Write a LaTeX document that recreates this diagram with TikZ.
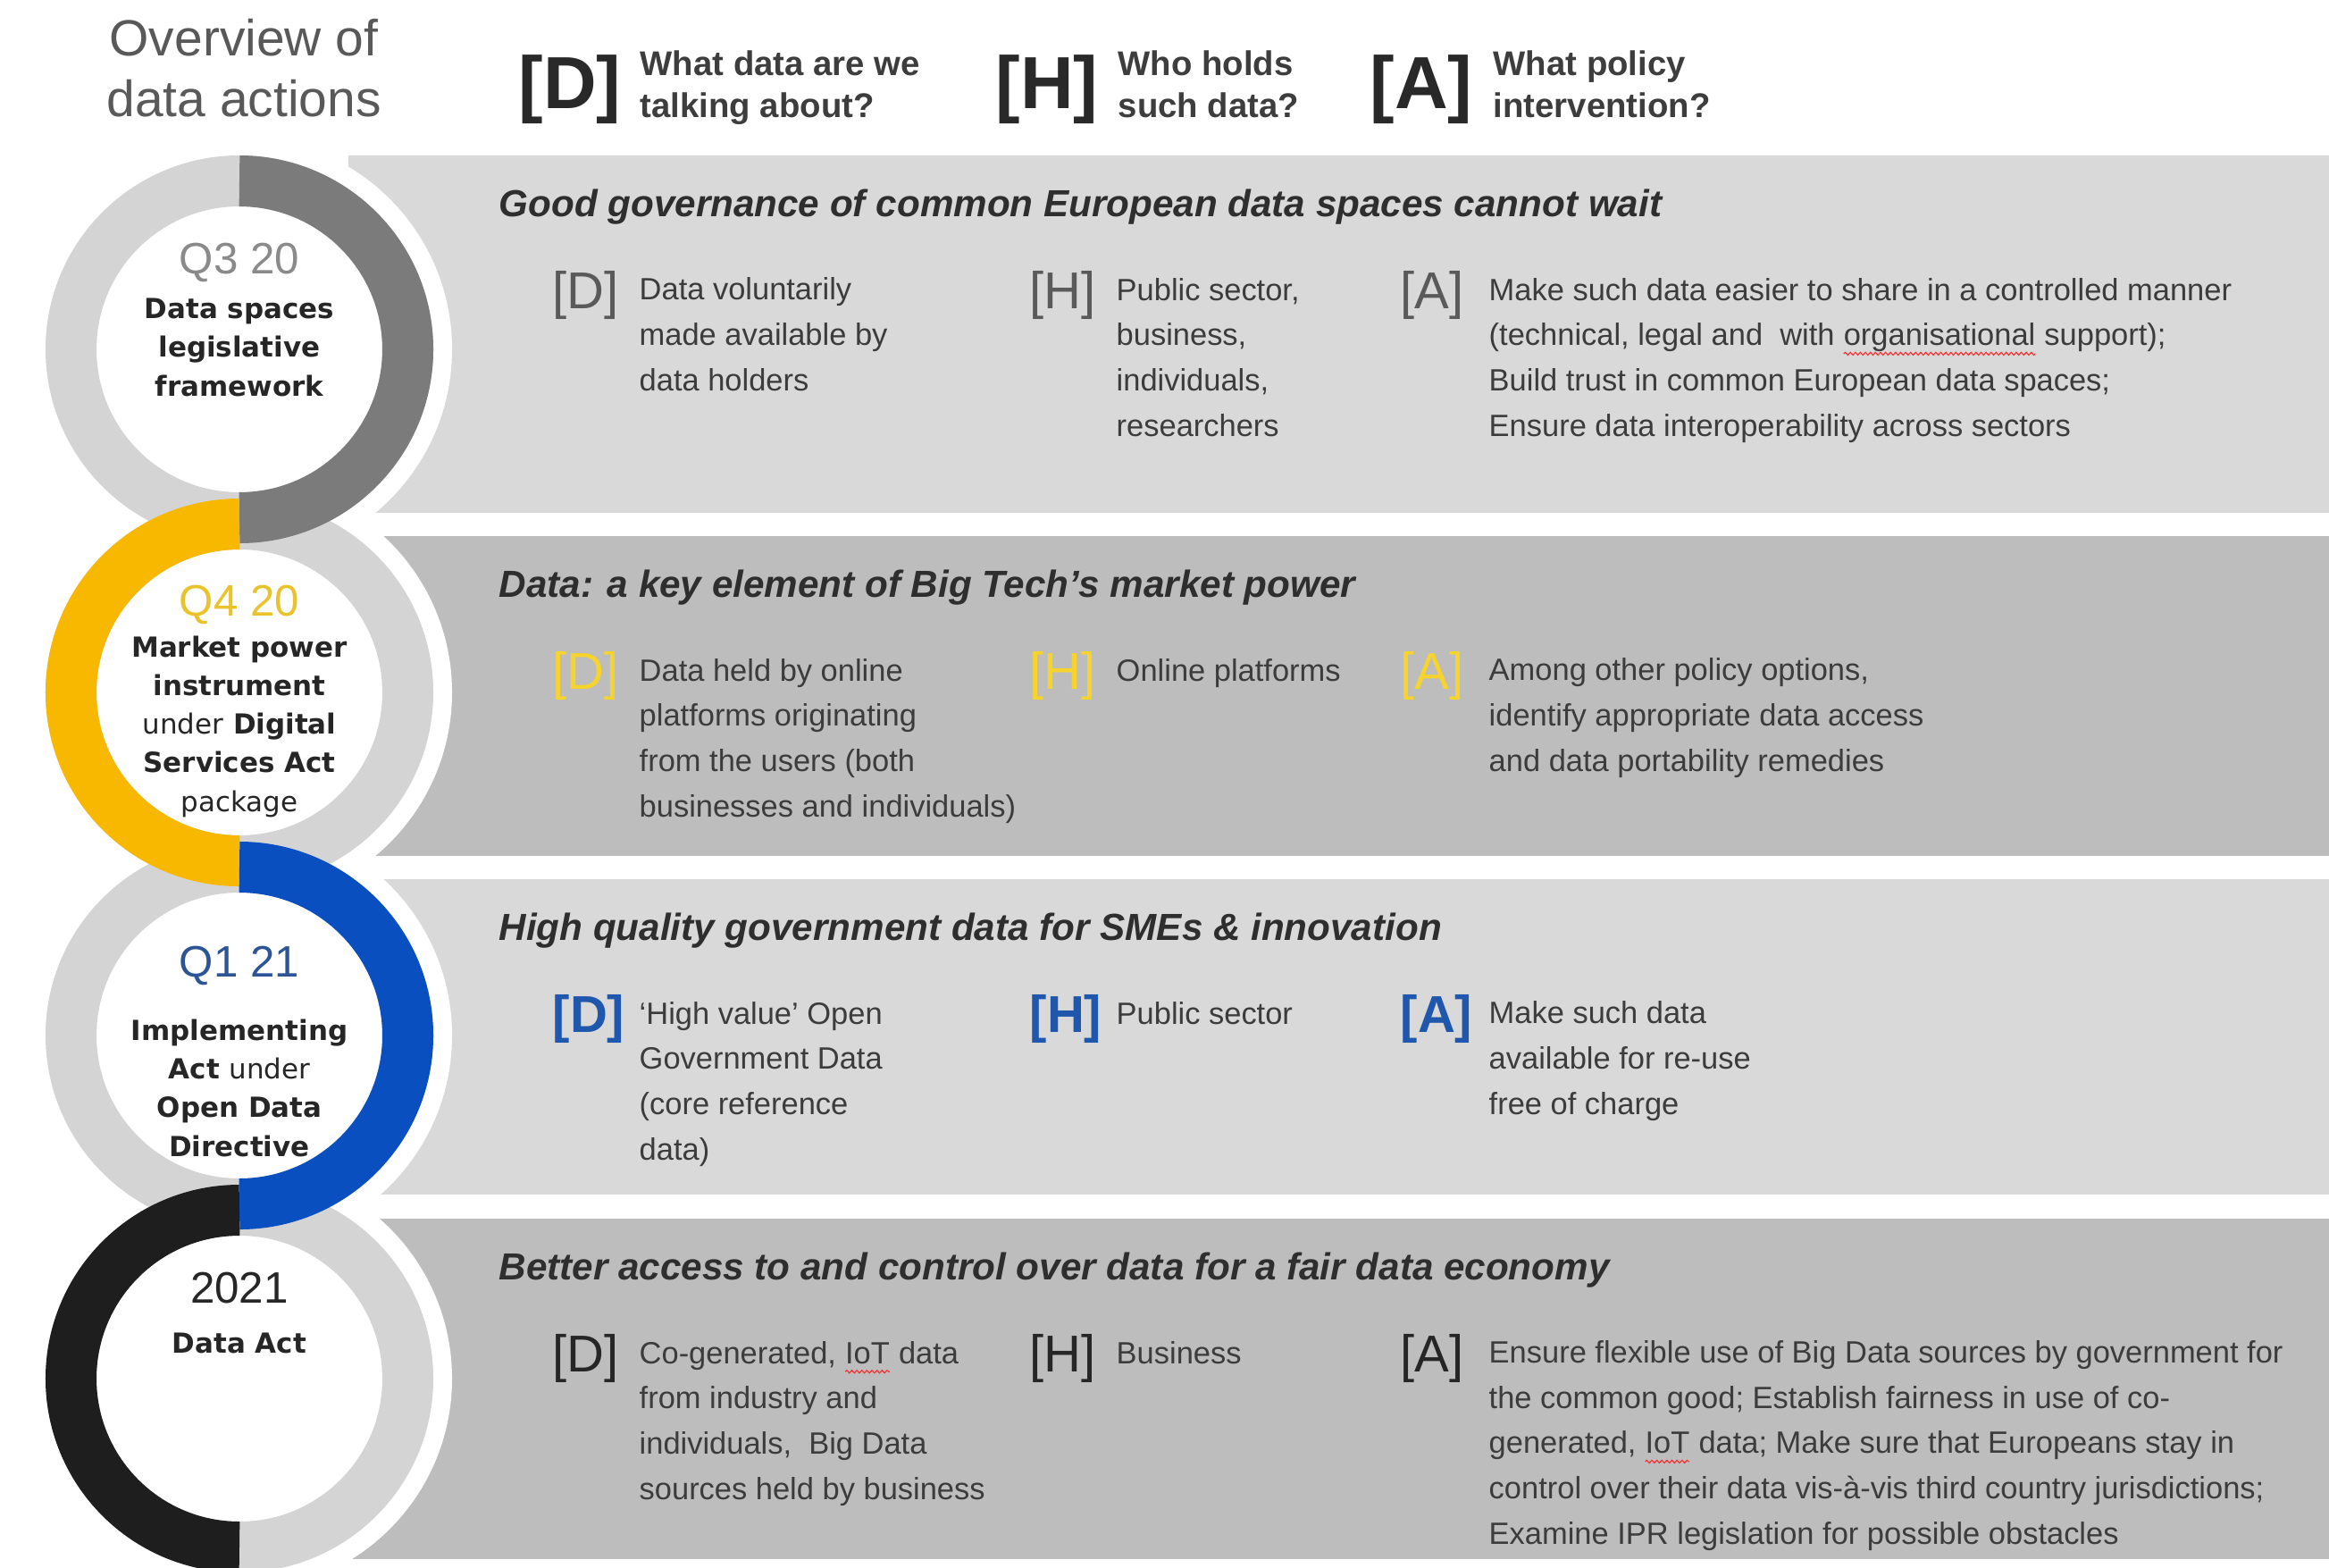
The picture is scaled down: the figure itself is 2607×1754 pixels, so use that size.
\documentclass[tikz,border=0pt]{standalone}
\usepackage{fontspec}
\setmainfont{Liberation Sans}
\newfontfamily\circfont{DejaVu Sans}
\usetikzlibrary{decorations.pathmorphing}

\definecolor{bandlight}{HTML}{D9D9D9}
\definecolor{banddark}{HTML}{BDBDBD}
\definecolor{ringlight}{HTML}{D4D4D4}
\definecolor{ringgrey}{HTML}{7B7B7B}
\definecolor{ringyellow}{HTML}{F8B800}
\definecolor{ringblue}{HTML}{0A4FBF}
\definecolor{ringblack}{HTML}{1E1E1E}
\definecolor{bodytext}{HTML}{3C3C3C}
\definecolor{titletext}{HTML}{595959}
\definecolor{qgrey}{HTML}{8A8A8A}
\definecolor{qyellow}{HTML}{E9C22C}
\definecolor{qblue}{HTML}{2B5597}
\definecolor{brkgrey}{HTML}{5A5A5A}
\definecolor{brkyellow}{HTML}{F6D32D}
\definecolor{brkblue}{HTML}{1F57AD}

\newcommand\fs[2]{\fontsize{#1}{#2}\selectfont}
% red squiggle under a word
\newcommand\spellmark[1]{\tikz[baseline=(sw.base)]{\node[inner sep=0pt,outer sep=0pt] (sw) {#1};
  \draw[red!85!white,line width=0.3pt,decorate,decoration={snake,amplitude=0.45pt,segment length=1.6pt}]
    ([yshift=-2.6pt]sw.base west) -- ([yshift=-2.6pt]sw.base east);}}

% multi-line nodes sit on the baseline of their last line
\tikzset{
  ring/.style={line width=5.7mm},
  hbrk/.style={anchor=base west,inner sep=0pt,font=\fs{23.5}{26}\bfseries,text=black!84},
  htext/.style={anchor=base west,inner sep=0pt,align=left,font=\fs{10.9}{13.3}\bfseries,text=black!76},
  bandtitle/.style={anchor=base west,inner sep=0pt,font=\fs{12}{14}\bfseries\itshape,text=black!82},
  entry/.style={anchor=base west,inner sep=0pt,align=left,font=\fs{9.8}{14.4},text=bodytext},
  brk/.style={anchor=base west,inner sep=0pt},
  qlabel/.style={anchor=base,inner sep=0pt,font=\fs{14}{16}},
  circtext/.style={anchor=base,inner sep=0pt,align=center,font=\circfont\bfseries\fs{8.8}{12.3},text=black!85},
}

\begin{document}
\begin{tikzpicture}[x=0.01cm,y=-0.01cm]
\useasboundingbox (0,0) rectangle (2607,1754);

% heading row
\node[anchor=base,inner sep=0pt,align=center,font=\fs{16.2}{19.1},text=titletext] (overview) at (273,130) {Overview of\\data actions};
\node[hbrk] (hd) at (580,121) {[D]};
\node[htext] (hdq) at (716,131) {What data are we\\talking about?};
\node[hbrk] (hh) at (1114,121) {[H]};
\node[htext] (hhq) at (1251,131) {Who holds\\such data?};
\node[hbrk] (ha) at (1533,121) {[A]};
\node[htext] (haq) at (1671,131) {What policy\\intervention?};

% the four bands
\fill[bandlight] (390,174) rectangle (2607,574);
\fill[banddark] (390,600) rectangle (2607,958);
\fill[bandlight] (390,984) rectangle (2607,1337);
\fill[banddark] (390,1364) rectangle (2607,1745);

% timeline rings
\foreach \cy in {391,775,1159,1543}
  \fill[white] (268,\cy) circle (238);
\foreach \cy in {391,775,1159,1543}
  \draw[ringlight,ring] (268,\cy) circle (188.5);
\draw[ringgrey,ring] (268,202.5) arc[start angle=-90,end angle=90,radius=188.5];
\draw[ringyellow,ring] (268,586.5) arc[start angle=-90,end angle=-270,radius=188.5];
\draw[ringblue,ring] (268,970.5) arc[start angle=-90,end angle=90,radius=188.5];
\draw[ringblack,ring] (268,1354.5) arc[start angle=-90,end angle=-270,radius=188.5];

\node[qlabel,text=qgrey] (q1) at (268,306) {Q3 20};
\node[circtext] (c1) at (268,443) {Data spaces\\legislative\\framework};
\node[qlabel,text=qyellow] (q2) at (268,689) {Q4 20};
\node[circtext] (c2) at (268,908) {Market power\\instrument\\{\mdseries under} Digital\\Services Act\\{\mdseries package}};
\node[qlabel,text=qblue] (q3) at (268,1093) {Q1 21};
\node[circtext] (c3) at (268,1294) {Implementing\\Act {\mdseries under}\\Open Data\\Directive};
\node[qlabel,text=black!85] (q4) at (268,1458) {2021};
\node[circtext] (c4) at (268,1514) {Data Act};

% band headlines
\node[bandtitle] (t1) at (558,242) {Good governance of common European data spaces cannot wait};
\node[bandtitle] (t2) at (558,668) {Data: a key element of Big Tech’s market power};
\node[bandtitle] (t3) at (558,1052) {High quality government data for SMEs \& innovation};
\node[bandtitle] (t4) at (558,1432) {Better access to and control over data for a fair data economy};

% [D] [H] [A] markers
\foreach \y/\c/\w [count=\i] in {345/brkgrey/\mdseries,771/brkyellow/\mdseries,1155/brkblue/\bfseries,1535/black!85/\mdseries} {
  \node[brk,text=\c,font=\fs{16.5}{18}\w] (bd\i) at (618,\y) {[D]};
  \node[brk,text=\c,font=\fs{16.5}{18}\w] (bh\i) at (1152,\y) {[H]};
  \node[brk,text=\c,font=\fs{16.5}{18}\w] (ba\i) at (1567,\y) {[A]};
}

\node[entry] (d1) at (715,437) {Data voluntarily\\made available by\\data holders};
\node[entry] (h1) at (1249,488) {Public sector,\\business,\\individuals,\\researchers};
\node[entry] (a1) at (1666,488) {Make such data easier to share in a controlled manner\\(technical, legal and \ with \spellmark{organisational} support);\\Build trust in common European data spaces;\\Ensure data interoperability across sectors};

\node[entry] (d2) at (715,914) {Data held by online\\platforms originating\\from the users (both\\businesses and individuals)};
\node[entry] (h2) at (1249,762) {Online platforms};
\node[entry] (a2) at (1666,863) {Among other policy options,\\identify appropriate data access\\and data portability remedies};

\node[entry] (d3) at (715,1298) {‘High value’ Open\\Government Data\\(core reference\\data)};
\node[entry] (h3) at (1249,1146) {Public sector};
\node[entry] (a3) at (1666,1247) {Make such data\\available for re-use\\free of charge};

\node[entry] (d4) at (715,1678) {Co-generated, \spellmark{IoT} data\\from industry and\\individuals, \ Big Data\\sources held by business};
\node[entry] (h4) at (1249,1526) {Business};
\node[entry] (a4) at (1666,1728) {Ensure flexible use of Big Data sources by government for\\the common good; Establish fairness in use of co-\\generated, \spellmark{IoT} data; Make sure that Europeans stay in\\control over their data vis-à-vis third country jurisdictions;\\Examine IPR legislation for possible obstacles};
\end{tikzpicture}
\end{document}
